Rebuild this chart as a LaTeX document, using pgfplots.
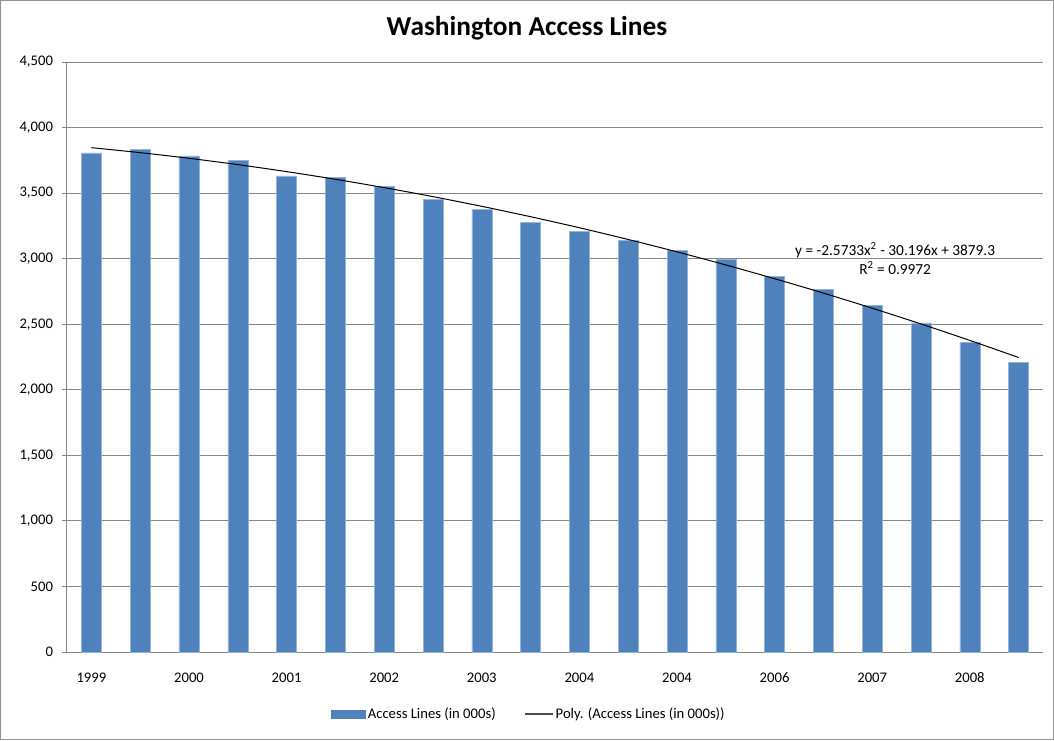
\documentclass[border=0pt]{standalone}
\usepackage{fontspec}
\setmainfont{Carlito}
\usepackage{pgfplots}
\pgfplotsset{compat=1.18}
\definecolor{barblue}{HTML}{4F81BD}
\definecolor{gridgray}{HTML}{868686}
\begin{document}
\begin{tikzpicture}
\useasboundingbox (-50.25pt,-66pt) rectangle (740.25pt,489pt);
\draw[gridgray!90, line width=0.75pt] (-49.6pt,-65.4pt) rectangle (739.6pt,488.4pt);
\begin{axis}[
  at={(0,0)}, anchor=south west,
  scale only axis, width=732pt, height=442.5pt,
  xmin=0.5, xmax=20.5, ymin=0, ymax=4500,
  axis x line*=bottom, axis y line*=left,
  axis line style={gridgray, line width=0.75pt, -},
  ytick={0,500,...,4500},
  ymajorgrids, grid style={gridgray, line width=0.75pt},
  /pgf/number format/1000 sep={,},
  /pgf/number format/assume math mode=true,
  tick label style={font=\fontsize{11}{13}\selectfont, color=black},
  ytick style={gridgray, line width=0.75pt},
  major tick length=4pt, minor tick length=5pt,
  tick align=outside,
  xtick={1,3,...,19},
  xticklabels={1999,2000,2001,2002,2003,2004,2004,2006,2007,2008},
  xtick style={draw=none},
  minor xtick={0.5,1.5,...,20.5},
  minor tick style={gridgray, line width=0.75pt},
  xticklabel style={anchor=base, yshift=-18.5pt},
  yticklabel style={xshift=-3pt},
  legend columns=2,
  legend style={draw=none, at={(0.473,-0.105)}, anchor=center,
    font=\fontsize{11}{13}\selectfont,
    nodes={inner xsep=1.5pt},
    /tikz/every even column/.append style={column sep=20pt}},
  legend cell align=left,
]
\addplot[ybar, bar width=15pt, fill=barblue, draw=barblue!60!white, line width=0.4pt,
  legend image code/.code={\fill[barblue] (0pt,-3pt) rectangle (26pt,3pt);}] coordinates {
(1,3807) (2,3833) (3,3784) (4,3749) (5,3632) (6,3622) (7,3554) (8,3452) (9,3376) (10,3274)
(11,3206) (12,3140) (13,3062) (14,2993) (15,2866) (16,2764) (17,2645) (18,2510) (19,2363) (20,2211)
};
\addlegendentry{Access Lines (in 000s)}
\addplot[black, line width=0.75pt, smooth, mark=none,
  legend image code/.code={\draw[black!70, line width=1pt] (0pt,0pt) -- (21pt,0pt);}] coordinates {
(1,3846.53) (2,3808.61) (3,3765.55) (4,3717.34) (5,3663.99) (6,3605.49) (7,3541.84) (8,3473.04)
(9,3399.10) (10,3320.01) (11,3235.78) (12,3146.39) (13,3051.86) (14,2952.19) (15,2847.37)
(16,2737.40) (17,2622.28) (18,2502.02) (19,2376.62) (20,2246.06)
};
\addlegendentry{Poly. (Access Lines (in 000s))}
\node[font=\fontsize{11.5}{14}\selectfont, align=center, anchor=center] at (axis cs:17.47,3000) {y = -2.5733x\textsuperscript{2} - 30.196x + 3879.3\\R\textsuperscript{2} = 0.9972};
\end{axis}
\node[font=\bfseries\fontsize{20.5}{24}\selectfont] at (345pt,468pt) {Washington Access Lines};
\end{tikzpicture}
\end{document}
